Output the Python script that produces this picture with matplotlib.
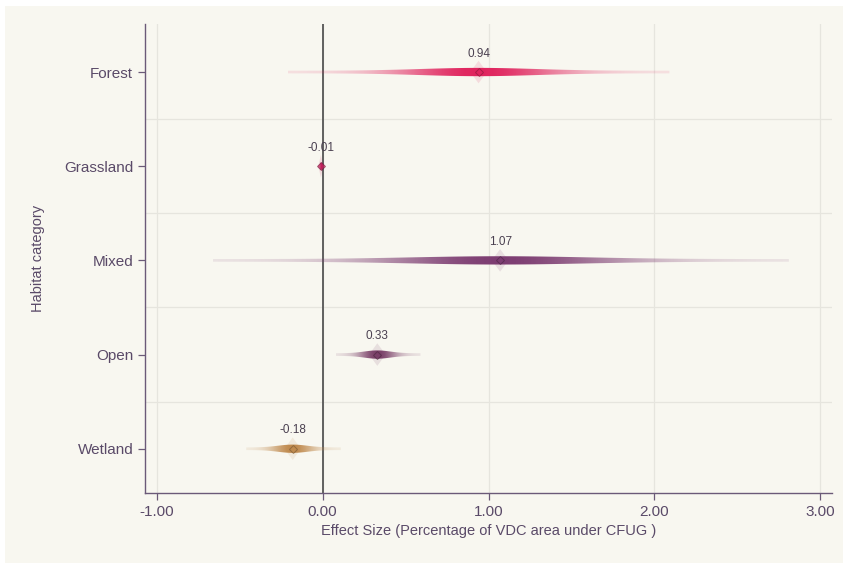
import matplotlib.pyplot as plt
from matplotlib.patches import Rectangle, Polygon
from matplotlib.colors import to_rgb
import numpy as np

# Data
categories = ["Forest", "Grassland", "Mixed", "Open", "Wetland"]
estimates = [0.94, -0.01, 1.07, 0.33, -0.18]
ci_low = [-0.21, -0.03, -0.66, 0.08, -0.46]
ci_high = [2.09, 0.01, 2.81, 0.59, 0.11]
colors = ["#e0245e", "#c21d5a", "#7d3d72", "#7a3f68", "#c08a4e"]
xticks = [-1.0, 0.0, 1.0, 2.0, 3.0]

text_col = "#5a4a68"
panel_col = "#f8f7f0"
grid_col = "#e6e5de"

plt.rcParams["font.family"] = ["Liberation Sans", "DejaVu Sans"]

fig = plt.figure(figsize=(8.49, 5.69), dpi=100, facecolor="white")
fig.patches.append(Rectangle((5 / 849, 6 / 569), 838 / 849, 557 / 569,
                             transform=fig.transFigure, facecolor=panel_col,
                             edgecolor="none", zorder=-10))
ax = fig.add_axes([145 / 849, 76 / 569, 687 / 849, 469 / 569])
ax.set_facecolor(panel_col)

n = len(categories)
ypos = np.arange(n, 0, -1)

ax.set_xlim(-1.07, 3.07)
ax.set_ylim(0.53, n + 0.51)

# grid: vertical at ticks, horizontal separators between rows
for xt in xticks:
    ax.axvline(xt, color=grid_col, lw=0.9, zorder=0)
for yb in ypos[:-1] - 0.5:
    ax.axhline(yb, color=grid_col, lw=0.9, zorder=0)

ax.axvline(0, color="#555555", lw=1.3, zorder=1)

for y, est, lo, hi, c in zip(ypos, estimates, ci_low, ci_high, colors):
    rgb = np.array(to_rgb(c))
    half = max(est - lo, hi - est)
    sd = max(half / 3.3, 0.004)
    xs = np.linspace(lo, hi, 500)
    z = (xs - est) / sd
    dens = np.exp(-0.5 * z ** 2)
    if hi - lo < 0.1:
        thick = 0.01 + 0.03 * dens
    else:
        thick = 0.014 + 0.03 * dens
    # body outline used as clip path for a horizontal alpha gradient
    body = Polygon(np.column_stack([np.r_[xs, xs[::-1]],
                                    np.r_[y + thick, (y - thick)[::-1]]]),
                   closed=True, facecolor="none", edgecolor="none")
    ax.add_patch(body)
    img = np.zeros((1, len(xs), 4))
    img[..., :3] = rgb
    img[0, :, 3] = 0.1 + 0.9 * dens ** 0.8
    im = ax.imshow(img, extent=[lo, hi, y - 0.07, y + 0.07], aspect="auto",
                   interpolation="bilinear", zorder=3)
    im.set_clip_path(body)
    # vertical spike at center
    w = min(0.05, (hi - lo) * 0.15 + 0.01)
    ax.add_patch(Polygon([[est - w, y], [est, y + 0.12], [est + w, y],
                          [est, y - 0.12]], closed=True, facecolor=rgb,
                         alpha=0.13, edgecolor="none", zorder=4))
    ax.plot(est, y, marker="D", ms=4, mfc=rgb, mec=rgb * 0.6,
            mew=0.7, alpha=0.6, zorder=5)
    ax.text(est, y + 0.13, f"{est:.2f}", ha="center", va="bottom",
            fontsize=8.5, color="#4a4050", zorder=6)

ax.set_yticks(ypos)
ax.set_yticklabels(categories)
ax.set_xticks(xticks)
ax.set_xticklabels([f"{v:.2f}" for v in xticks])

for s in ["top", "right"]:
    ax.spines[s].set_visible(False)
for s in ["left", "bottom"]:
    ax.spines[s].set_color("#6b5a78")
    ax.spines[s].set_linewidth(1.0)
ax.tick_params(colors="#6b5a78", labelcolor=text_col, labelsize=11,
               length=5, width=0.9)

ax.set_xlabel("Effect Size (Percentage of VDC area under CFUG )",
              fontsize=10.5, color=text_col, labelpad=4)
ax.set_ylabel("Habitat category", fontsize=10.5, color=text_col,
              labelpad=14)

fig.savefig("out.png", dpi=100, facecolor=fig.get_facecolor())
